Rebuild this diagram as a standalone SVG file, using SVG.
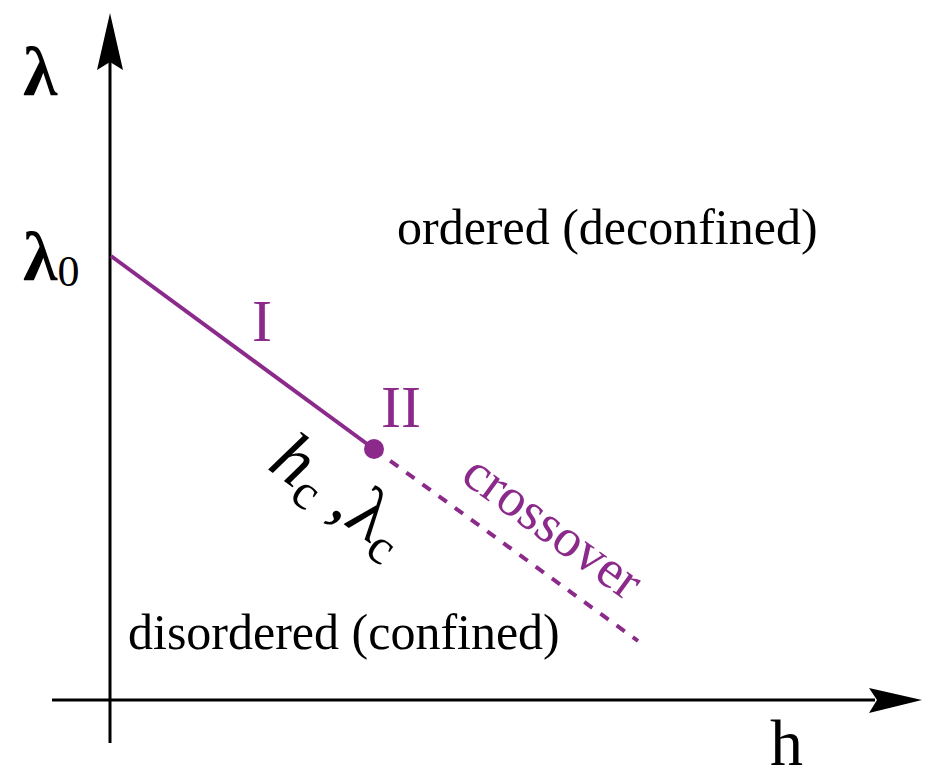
<svg xmlns="http://www.w3.org/2000/svg" width="934" height="773" viewBox="0 0 934 773">
<style>
.ax{stroke:#000;stroke-width:3;fill:none}
.p{fill:#8B2A8B}
</style>
<rect width="934" height="773" fill="#fff"/>
<g id="axes">
<line class="ax" x1="110" y1="60" x2="110" y2="743"/>
<path d="M110,13 L123,70 L110,62 L97,70 Z" fill="#000"/>
<line class="ax" x1="52" y1="700" x2="875" y2="700"/>
<path d="M922,700 L869,688 L877,700 L869,713 Z" fill="#000"/>
</g>
<g id="connectors">
<line x1="111" y1="256" x2="374" y2="449" stroke="#8B2A8B" stroke-width="4"/>
<line x1="374" y1="449" x2="638" y2="641" stroke="#8B2A8B" stroke-width="4" stroke-dasharray="10,10"/>
<circle cx="374" cy="449" r="10" fill="#8B2A8B"/>
</g>
<g id="labels" font-family="'Liberation Serif','Times New Roman',serif" fill="#000">
<text x="23" y="95" font-size="70" font-weight="bold">λ</text>
<text x="23" y="280" font-size="70" font-weight="bold">λ<tspan font-size="44" font-weight="normal" dy="6">0</tspan></text>
<text x="397" y="244" font-size="50">ordered (deconfined)</text>
<text x="128" y="649" font-size="50">disordered (confined)</text>
<text x="770" y="765" font-size="66">h</text>
<text class="p" x="252" y="341" font-size="60">I</text>
<text class="p" x="381" y="427" font-size="60">II</text>
<text class="p" font-size="54" transform="translate(459,480) rotate(36)">crossover</text>
<text font-size="72" transform="translate(266,468) rotate(36)"><tspan font-style="italic">h</tspan><tspan font-size="50" dy="12">c</tspan><tspan dy="-12"> ,</tspan>λ<tspan font-size="50" dy="12">c</tspan></text>
</g>
</svg>
